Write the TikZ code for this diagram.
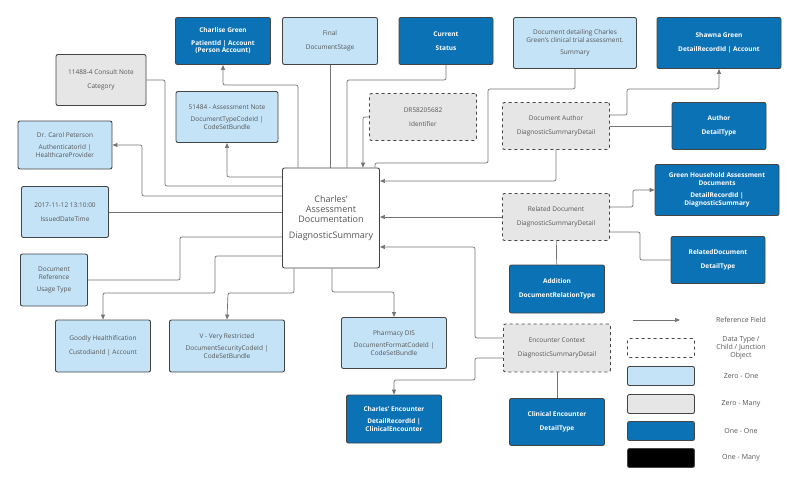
\documentclass[tikz,border=0pt]{standalone}
\usepackage{fontspec}
\setmainfont{Open Sans}
\usepackage{tikz}
\usetikzlibrary{arrows.meta, positioning, calc}

\definecolor{lightblue}{HTML}{C4E3F7}
\definecolor{lightgray}{HTML}{E6E6E6}
\definecolor{darkblue}{HTML}{0C72B6}
\definecolor{textgray}{HTML}{555555}
\definecolor{edgegray}{HTML}{444444}

\begin{document}
\begin{tikzpicture}[
                                        x=1pt, y=-1pt,
                                        >={Triangle[length=5pt,width=4pt]},
                                        box/.style={rectangle, rounded corners=2pt, draw=edgegray, line width=0.9pt, align=center, font=\fontsize{6.5}{7.5}\selectfont, text=textgray, inner sep=1pt},
                                        zeroone/.style={box, fill=lightblue},
                                        zeromany/.style={box, fill=lightgray},
                                        oneone/.style={box, fill=darkblue, text=white, font=\fontsize{6.5}{7.5}\selectfont\bfseries},
                                        junction/.style={box, fill=lightgray, dashed},
                                        link/.style={draw=gray!90!black, line width=0.7pt, rounded corners=2pt},
                                        ref/.style={link, ->},
                                ]
                                \useasboundingbox (0,0) rectangle (800,493);
                                % central object
                                \node[box, fill=white, minimum width=97pt, minimum height=100pt, font=\fontsize{9}{10}\selectfont] (main) at (331,218) {Charles'\\Assessment\\Documentation\\[6pt]DiagnosticSummary};
                                % top row
                                \node[oneone, minimum width=95pt, minimum height=47pt] (charlise) at (223,41) {Charlise Green\\[5pt]PatientId | Account\\(Person Account)};
                                \node[zeroone, minimum width=95pt, minimum height=47pt] (final) at (330,41) {Final\\[6pt]DocumentStage};
                                \node[oneone, minimum width=94pt, minimum height=47pt] (current) at (446,41) {Current\\[6pt]Status};
                                \node[zeroone, minimum width=123pt, minimum height=51pt] (summary) at (575,43) {Document detailing Charles\\Green's clinical trial assessment.\\[5pt]Summary};
                                \node[oneone, minimum width=124pt, minimum height=51pt] (shawna) at (719,43) {Shawna Green\\[6pt]DetailRecordId | Account};
                                % left side
                                \node[zeromany, minimum width=90pt, minimum height=51pt] (consult) at (101,80) {11488-4 Consult Note\\[6pt]Category};
                                \node[zeroone, minimum width=102pt, minimum height=51pt] (typecode) at (227,117) {51484 - Assessment Note\\[5pt]DocumentTypeCodeId |\\CodeSetBundle};
                                \node[junction, minimum width=107pt, minimum height=47pt] (identifier) at (423,117) {DR58205682\\[6pt]Identifier};
                                \node[zeroone, minimum width=94pt, minimum height=48pt] (carol) at (65,145) {Dr. Carol Peterson\\[5pt]AuthenticatorId |\\HealthcareProvider};
                                \node[zeroone, minimum width=87pt, minimum height=51pt] (issued) at (65,212) {2017-11-12 13:10:00\\[6pt]IssuedDateTime};
                                \node[zeroone, minimum width=67pt, minimum height=52pt] (docref) at (54,280) {Document\\Reference\\[5pt]Usage Type};
                                % bottom row
                                \node[zeroone, minimum width=95pt, minimum height=52pt] (custodian) at (103,346) {Goodly Healthification\\[6pt]CustodianId | Account};
                                \node[zeroone, minimum width=115pt, minimum height=52pt] (security) at (227,346) {V - Very Restricted\\[5pt]DocumentSecurityCodeId |\\CodeSetBundle};
                                \node[zeroone, minimum width=105pt, minimum height=51pt] (format) at (394,343) {Pharmacy DIS\\[5pt]DocumentFormatCodeId |\\CodeSetBundle};
                                \node[oneone, minimum width=95pt, minimum height=48pt] (encounter) at (394,419) {Charles' Encounter\\[5pt]DetailRecordId |\\ClinicalEncounter};
                                % detail objects
                                \node[junction, minimum width=107pt, minimum height=47pt] (docauthor) at (556,126) {Document Author\\[6pt]DiagnosticSummaryDetail};
                                \node[oneone, minimum width=94pt, minimum height=47pt] (author) at (719,126) {Author\\[6pt]DetailType};
                                \node[oneone, minimum width=124pt, minimum height=51pt] (household) at (717,190) {Green Household Assessment\\Documents\\[5pt]DetailRecordId |\\DiagnosticSummary};
                                \node[junction, minimum width=107pt, minimum height=47pt] (relateddoc) at (556,217) {Related Document\\[6pt]DiagnosticSummaryDetail};
                                \node[oneone, minimum width=94pt, minimum height=47pt] (relatedtype) at (718,260) {RelatedDocument\\[6pt]DetailType};
                                \node[oneone, minimum width=95pt, minimum height=48pt] (addition) at (557,289) {Addition\\[6pt]DocumentRelationType};
                                \node[junction, minimum width=107pt, minimum height=48pt] (context) at (557,348) {Encounter Context\\[6pt]DiagnosticSummaryDetail};
                                \node[oneone, minimum width=95pt, minimum height=47pt] (clinical) at (557,422) {Clinical Encounter\\[6pt]DetailType};
                                % connectors
                                \draw[ref] ([xshift=-33pt]main.north) |- (223,85) -- (charlise.south);
                                \draw[link] (final) -- (final |- main.north);
                                \draw[link] (current.south) |- (347,80) -- ([xshift=16pt]main.north);
                                \draw[link] (consult.east) -| (165,186) -- ([yshift=32pt]main.west);
                                \draw[ref] ([yshift=41pt]main.west) -| (typecode.south);
                                \draw[ref] ([yshift=22pt]main.west) -| (142,145) -- (carol.east);
                                \draw[link] (issued.east) -- (issued.east -| main.west);
                                \draw[ref] (identifier.west) -| ([xshift=32pt]main.north);
                                \draw[link] (summary.south) |- (488,89) |- (375,163) -- ([xshift=44pt]main.north);
                                \draw[ref] (docauthor.south) |- ([yshift=37pt]main.east);
                                \draw[ref] (relateddoc.west) -- (relateddoc.west -| main.east);
                                \draw[ref] ([yshift=10pt]context.west) -| (475,247) -- ([yshift=-29pt]main.east);
                                \draw[ref] ([yshift=-10pt]context.west) -| (475,380) -| (encounter.north);
                                \draw[link] (context) -- (clinical);
                                \draw[link] (relateddoc) -- (addition);
                                \draw[ref] ([yshift=10pt]relateddoc.east) -| (633,190) -- (household.west);
                                \draw[link] ([yshift=-15pt]relateddoc.east) -| (640,260) -- (relatedtype.west);
                                \draw[ref] ([yshift=11pt]docauthor.east) -| (627,89) -| (shawna.south);
                                \draw[link] (docauthor) -- (author);
                                \draw[ref] ([yshift=-38pt]main.west) -| (215,293) -| (custodian.north);
                                \draw[link] (docref.east) -| (180,237) -- ([yshift=-19pt]main.west);
                                \draw[ref] ([xshift=-37pt]main.south) |- (228,293) -- (security.north);
                                \draw[ref] ([xshift=1pt]main.south) |- (394,292) -- (format.north);
                                % legend
                                \coordinate (legstart) at (633,320);
                                \coordinate (legend) at (680,320);
                                \draw[ref] (legstart) -- (legend);
                                \node[font=\fontsize{7}{8}\selectfont, text=textgray] (legref) at (741,320) {Reference Field};
                                \node[junction, fill=white, minimum width=67pt, minimum height=19pt] (legjunction) at (661,348) {};
                                \node[font=\fontsize{7}{8}\selectfont, text=textgray, align=center] at (741,348) {Data Type /\\Child / Junction\\Object};
                                \node[zeroone, minimum width=67pt, minimum height=19pt] (legzeroone) at (661,376) {};
                                \node[font=\fontsize{7}{8}\selectfont, text=textgray] at (741,376) {Zero - One};
                                \node[zeromany, minimum width=67pt, minimum height=19pt] (legzeromany) at (661,404) {};
                                \node[font=\fontsize{7}{8}\selectfont, text=textgray] at (741,404) {Zero - Many};
                                \node[oneone, minimum width=67pt, minimum height=19pt] (legoneone) at (661,431) {};
                                \node[font=\fontsize{7}{8}\selectfont, text=textgray] at (741,431) {One - One};
                                \node[box, fill=black, minimum width=67pt, minimum height=19pt] (legonemany) at (661,458) {};
                                \node[font=\fontsize{7}{8}\selectfont, text=textgray] at (741,458) {One - Many};
                        \end{tikzpicture}
\end{document}
